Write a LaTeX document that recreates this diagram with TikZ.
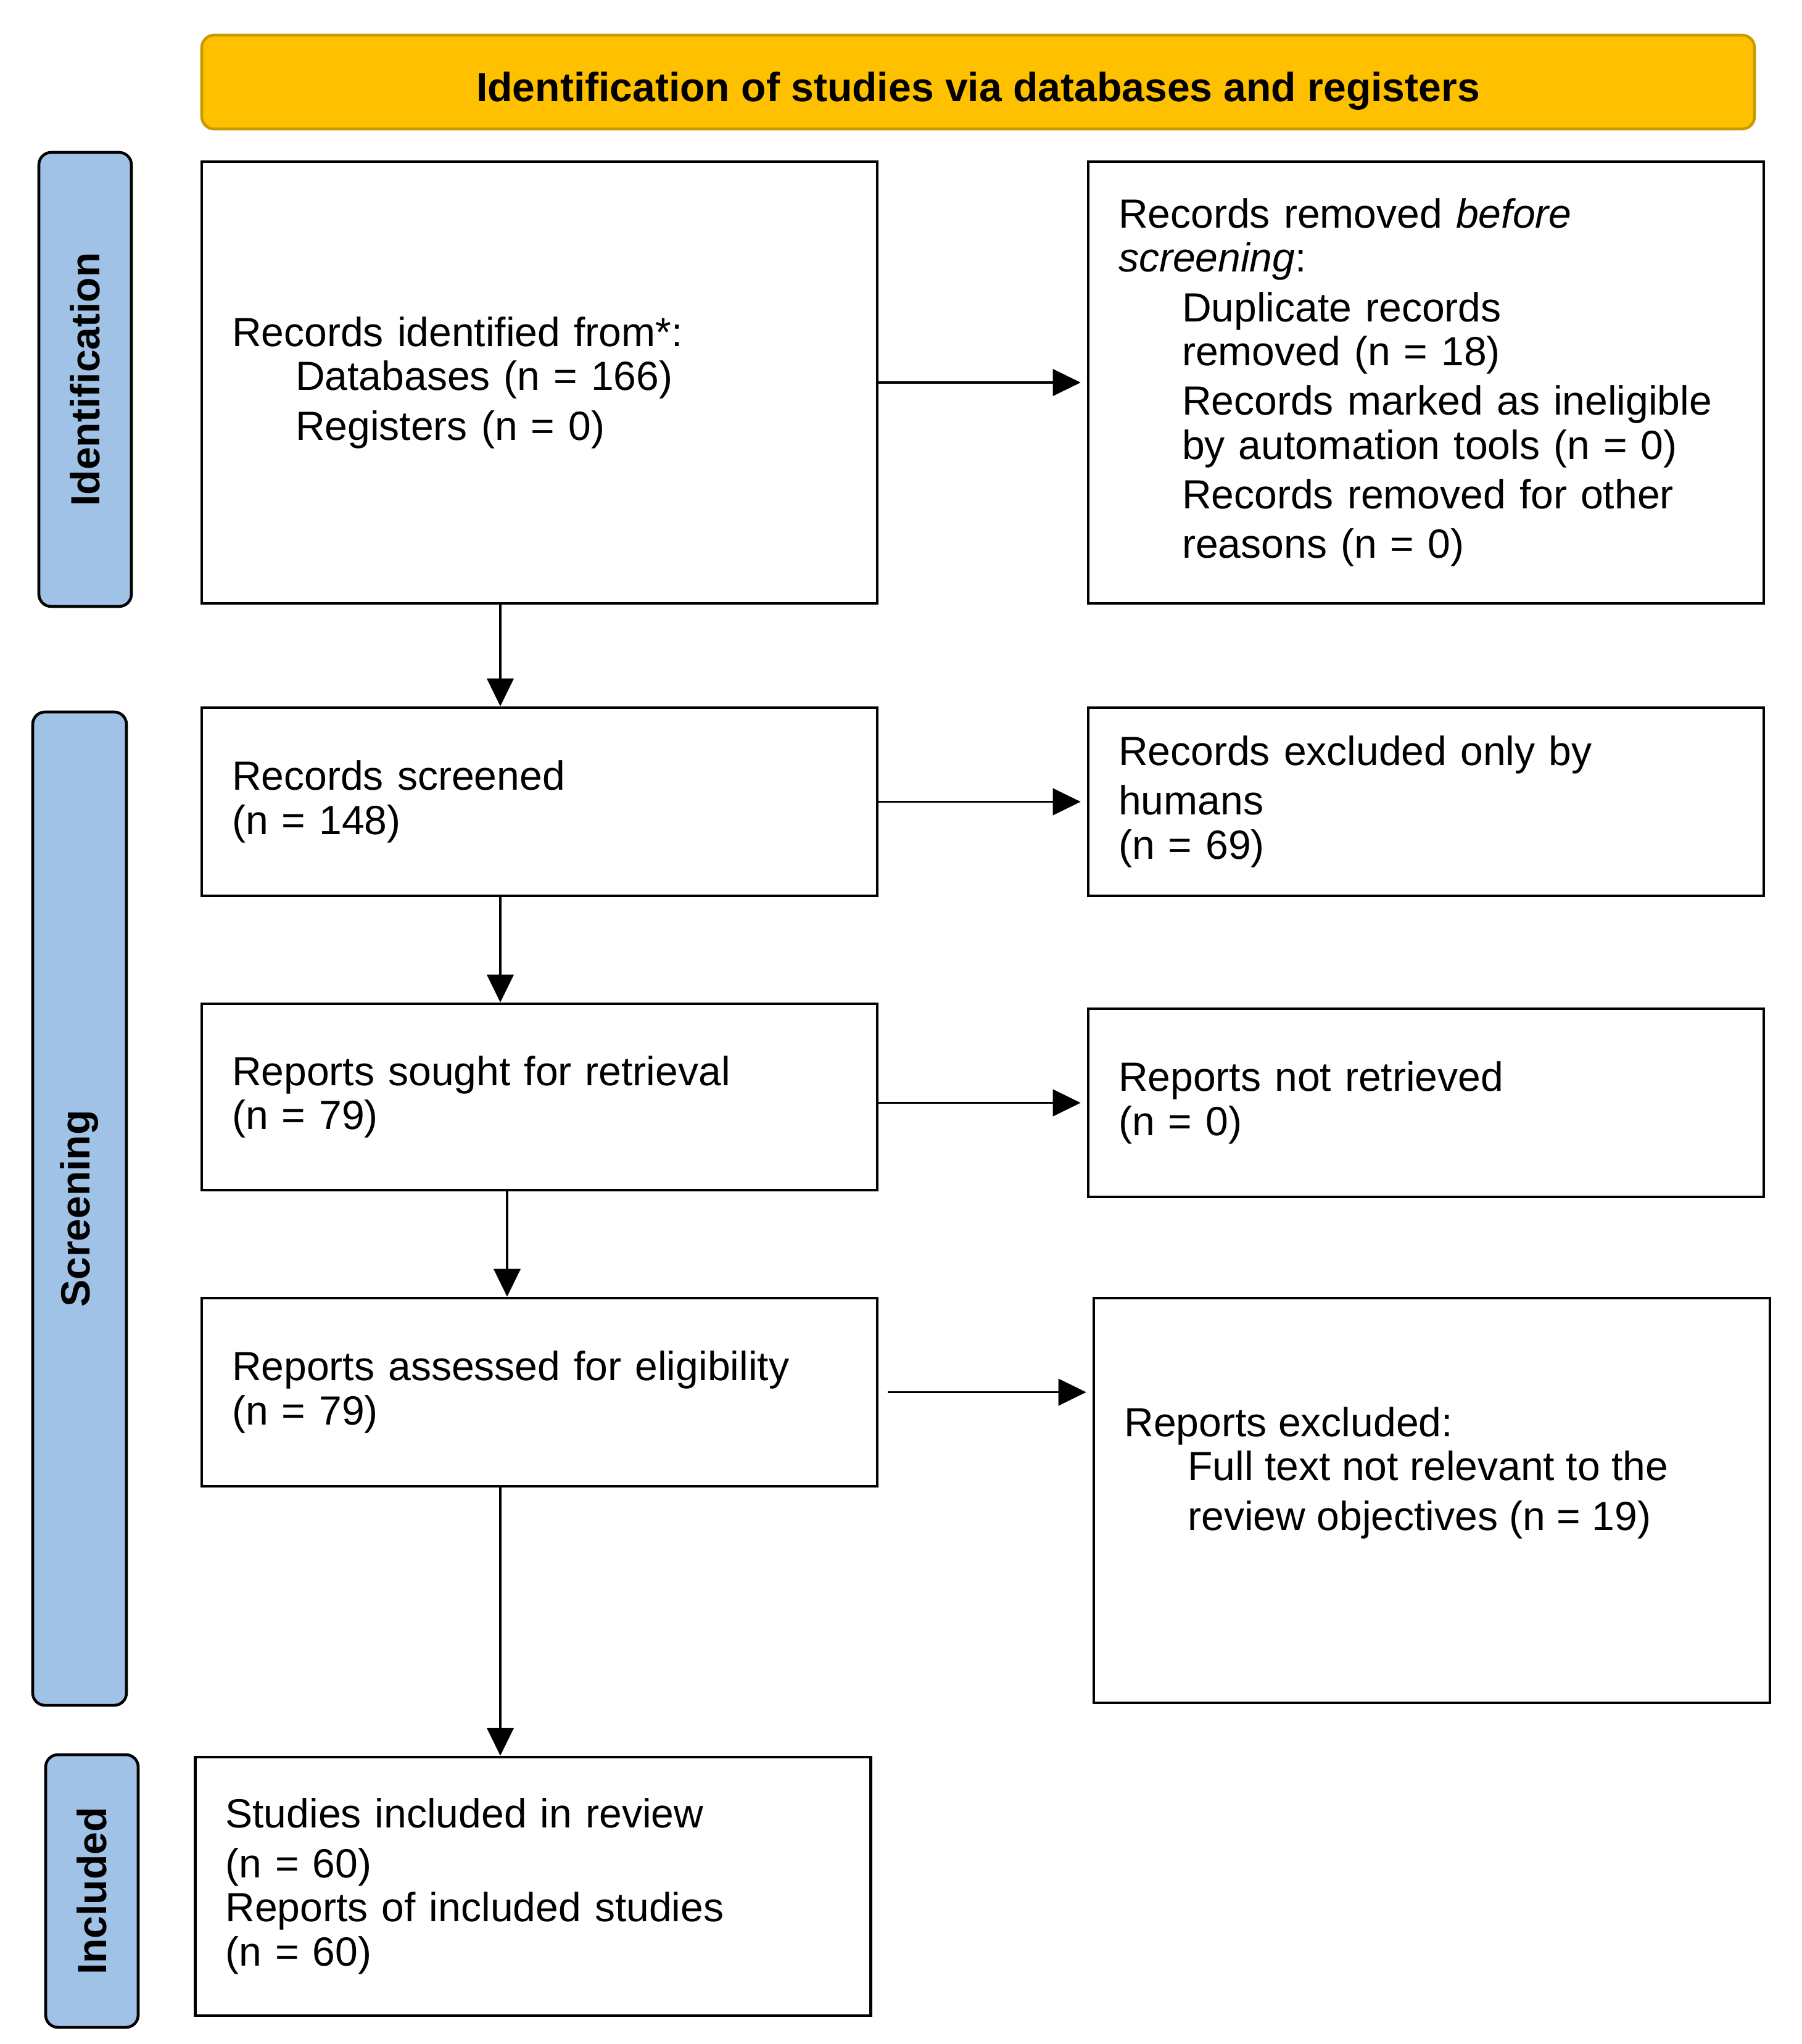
\documentclass[tikz,border=0pt]{standalone}
\usepackage{fontspec}
\setmainfont{Liberation Sans}
\usetikzlibrary{arrows.meta}
\definecolor{phaseblue}{HTML}{A0C2E6}
\definecolor{headgold}{HTML}{FFC000}
\definecolor{headedge}{HTML}{C99A00}
\newcommand{\ind}{\hspace*{1.03cm}}

\begin{document}
\begin{tikzpicture}[
  every node/.style={font=\fontsize{18.8}{20.4}\selectfont},
  box/.style={draw, line width=1.3pt, align=left, text width=9.97cm,
    inner xsep=0.49cm, inner ysep=0pt},
  phase/.style={draw, line width=1.3pt, fill=phaseblue, rounded corners=0.2cm,
    rotate=90, inner sep=0pt, font=\fontsize{18.8}{20.4}\selectfont\bfseries},
  flow/.style={line width=1.1pt, -{Triangle[length=4.5mm,width=4.3mm]}}
]
  \useasboundingbox (0,0) rectangle (29.2,-33.13);
  % Header
  \node[draw=headedge, line width=1.3pt, fill=headgold, rounded corners=0.2cm,
    minimum width=25.17cm, minimum height=1.52cm,
    font=\fontsize{18.8}{20.4}\selectfont\bfseries] (head) at (15.855,-1.33)
    {\raisebox{-0.15cm}[\height][\depth]{Identification of studies via databases and registers}};
  % Identification
  \node[phase, minimum width=7.36cm, minimum height=1.5cm] (idphase) at (1.38,-6.15)
    {Identification};
  \node[box, minimum height=7.16cm] (found) at (8.745,-6.2)
    {Records identified from*:\\
     \ind Databases (n = 166)\\[2.4pt]
     \ind Registers (n = 0)};
  \node[box, minimum height=7.16cm] (removed) at (23.115,-6.2)
    {Records removed \textit{before}\\
     \textit{screening}:\\[2.4pt]
     \ind Duplicate records\\
     \ind removed (n = 18)\\[2.4pt]
     \ind Records marked as ineligible\\
     \ind by automation tools (n = 0)\\[2.4pt]
     \ind Records removed for other\\[2.4pt]
     \ind reasons (n = 0)};
  % Screening
  \node[phase, minimum width=16.1cm, minimum height=1.52cm] (scphase) at (1.29,-19.59)
    {Screening};
  \node[box, minimum height=3.05cm] (screened) at (8.745,-12.995)
    {Records screened\\ (n = 148)};
  \node[box, minimum height=3.05cm] (humans) at (23.115,-12.995)
    {Records excluded only by\\[2.4pt] humans\\ (n = 69)};
  \node[box, minimum height=3.02cm] (sought) at (8.745,-17.78)
    {Reports sought for retrieval\\ (n = 79)};
  \node[box, minimum height=3.05cm] (notret) at (23.115,-17.875)
    {Reports not retrieved\\ (n = 0)};
  \node[box, minimum height=3.05cm] (assessed) at (8.745,-22.565)
    {Reports assessed for eligibility\\ (n = 79)};
  \node[draw, line width=1.3pt, minimum width=10.96cm, minimum height=6.56cm]
    (excl) at (23.21,-24.32) {};
  \node[anchor=west, align=left, inner sep=0pt] (excltext)
    at ([xshift=0.51cm,yshift=0.45cm]excl.west)
    {Reports excluded:\\
     \ind Full text not relevant to the\\[2.4pt]
     \ind review objectives (n = 19)};
  % Included
  \node[phase, minimum width=4.42cm, minimum height=1.5cm] (inphase) at (1.49,-30.65)
    {Included};
  \node[box, minimum height=4.19cm] (incl) at (8.64,-30.575)
    {Studies included in review\\[2.4pt]
     (n = 60)\\
     Reports of included studies\\
     (n = 60)};
  % Flow
  \draw[flow] ([xshift=-6.35mm]found.south) -- ([xshift=-6.35mm]screened.north);
  \draw[flow] ([xshift=-6.35mm]screened.south) -- ([xshift=-6.35mm]sought.north);
  \draw[flow] ([xshift=-5.25mm]sought.south) -- ([xshift=-5.25mm]assessed.north);
  \draw[flow] ([xshift=-6.35mm]assessed.south) -- ([xshift=-6.35mm]assessed.south |- incl.north);
  \draw[flow, shorten >=1mm] (found.east) -- (removed.west);
  \draw[flow, shorten >=1mm] (screened.east) -- (humans.west);
  \draw[flow, shorten >=1mm] (notret.west -| sought.east) -- (notret.west);
  \draw[flow, shorten <=1.5mm, shorten >=1mm] (assessed.east) -- (assessed.east -| excl.west);
\end{tikzpicture}
\end{document}
